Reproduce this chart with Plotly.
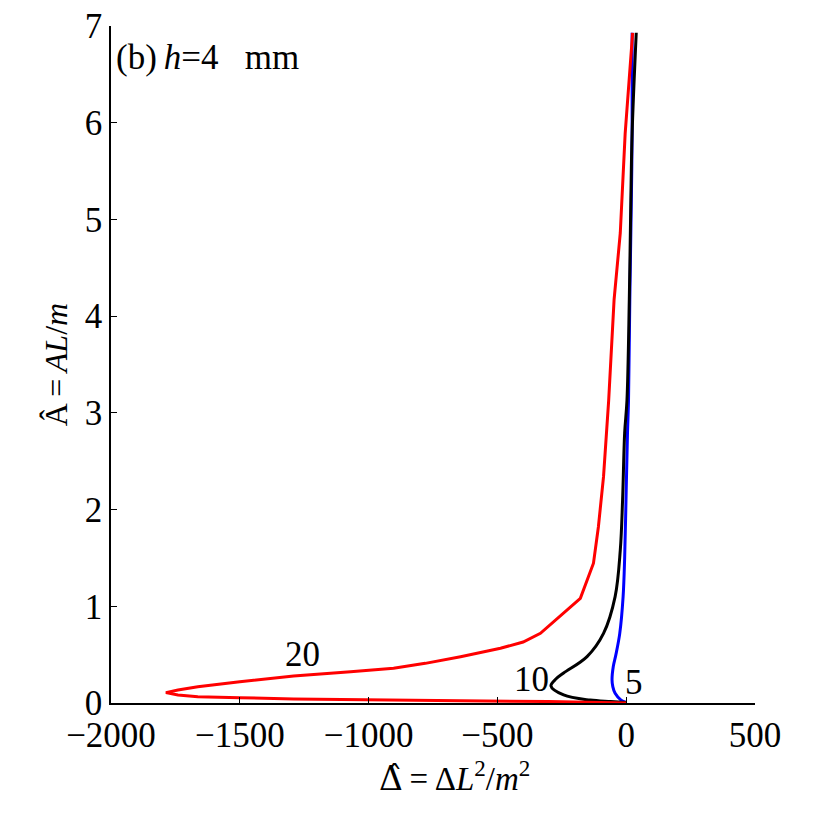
import plotly.graph_objects as go

# Curve labelled 20 (red)
red_x = [0, -300, -643, -1000, -1291, -1500, -1663, -1740, -1787, -1740, -1663, -1500, -1291, -1070, -903, -780, -643, -488, -400, -333, -178, -127, -108, -88, -68, -47, -23, -4, 25]
red_y = [0, 0.015, 0.024, 0.03, 0.041, 0.055, 0.065, 0.083, 0.107, 0.134, 0.169, 0.22, 0.28, 0.324, 0.359, 0.41, 0.479, 0.566, 0.63, 0.72, 1.083, 1.445, 1.82, 2.34, 3.13, 4.17, 4.86, 5.89, 6.93]

# Curve labelled 10 (black)
black_x = [0, -60, -140, -243, -292, -272, -243, -152, -88, -43, -23, -14, -6, 3, 12, 18, 23, 39]
black_y = [0.005, 0.015, 0.03, 0.083, 0.176, 0.25, 0.31, 0.48, 0.72, 1.1, 1.58, 2.1, 2.79, 3.13, 4.17, 5.2, 5.89, 6.93]

# Curve labelled 5 (blue)
blue_x = [0, -20, -43, -52, -55, -50, -40, -25, -12, -6, 0, 5, 9, 14, 20, 23, 23]
blue_y = [0.005, 0.03, 0.1, 0.17, 0.24, 0.38, 0.5, 0.72, 1.1, 1.5, 2.2, 2.79, 3.13, 4.17, 5.2, 5.89, 6.93]

x_ticks = [-2000, -1500, -1000, -500, 0, 500]
y_ticks = [0, 1, 2, 3, 4, 5, 6, 7]

FONT = "Liberation Serif"

fig = go.Figure()
fig.add_trace(go.Scatter(x=blue_x, y=blue_y, mode="lines", line=dict(color="#0000ff", width=3), line_shape="spline"))
fig.add_trace(go.Scatter(x=black_x, y=black_y, mode="lines", line=dict(color="#000000", width=3), line_shape="spline"))
fig.add_trace(go.Scatter(x=red_x, y=red_y, mode="lines", line=dict(color="#ff0000", width=3)))

labels = [("20", -1256, 0.5), ("10", -368, 0.24), ("5", 31, 0.21)]
for t, lx, ly in labels:
    fig.add_annotation(x=lx, y=ly, text=t, showarrow=False, font=dict(family=FONT, size=35, color="black"))

fig.add_annotation(xref="paper", yref="paper", x=0.004, y=0.953, xanchor="left", yanchor="middle",
                   text="(b)\u2009<i>h</i>=4\u00a0\u00a0\u00a0mm", showarrow=False, font=dict(family=FONT, size=35, color="black"))

# x-axis title as an annotation (slightly right of centre, as in the original)
fig.add_annotation(xref="paper", yref="paper", x=0.534, y=-0.108, xanchor="center", yanchor="middle",
                   text="<span style=\"font-family:DejaVu Serif\">\u0394\u0302</span>\u2009=\u2009\u0394<i>L</i><sup>2</sup>/<i>m</i><sup>2</sup>",
                   showarrow=False, font=dict(family=FONT, size=33, color="black"))

fig.update_layout(
    width=830, height=830,
    margin=dict(l=103, r=83, t=18, b=135),
    plot_bgcolor="white", paper_bgcolor="white",
    showlegend=False,
    font=dict(family=FONT, size=35, color="black"),
)
fig.update_xaxes(range=[-2000, 500], tickvals=x_ticks, ticktext=[("\u2212" + str(-v)) if v < 0 else str(v) for v in x_ticks],
                 automargin=False, ticklabeloverflow="allow",
                 showgrid=False, zeroline=False, showline=True, linecolor="black", linewidth=1.5,
                 ticks="inside", ticklen=6, tickwidth=1.2, tickcolor="black")
fig.update_yaxes(range=[0, 7], tickvals=y_ticks, automargin=False, ticklabeloverflow="allow",
                 showgrid=False, zeroline=False, showline=True, linecolor="black", linewidth=1.5,
                 ticks="inside", ticklen=6, tickwidth=1.2, tickcolor="black",
                 title=dict(text="A\u0302\u2009=\u2009<i>AL</i>/<i>m</i>", font=dict(size=32), standoff=8))

fig.write_html("out.html")
